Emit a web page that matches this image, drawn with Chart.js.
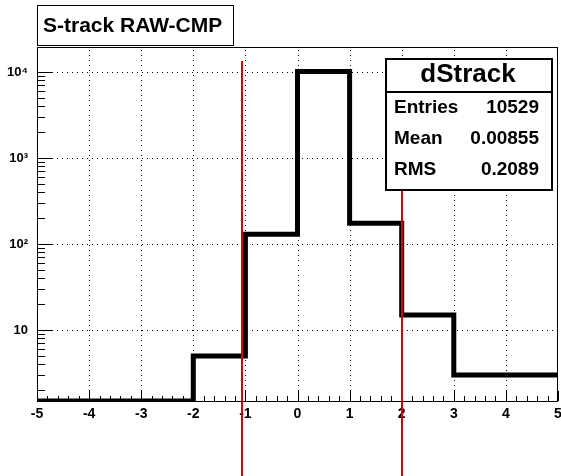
<!DOCTYPE html>
<html>
<head>
<meta charset="utf-8">
<script src="https://cdn.jsdelivr.net/npm/chart.js@4.4.1/dist/chart.umd.min.js"></script>
<style>
html, body { margin: 0; padding: 0; background: #fff; }
</style>
</head>
<body>
<canvas id="chart" width="561" height="476"></canvas>
<script>
// histogram bins (width 1) and their contents
const binEdges = [-5, -4, -3, -2, -1, 0, 1, 2, 3, 4, 5];
const binCounts = [0, 0, 0, 5, 130, 10150, 175, 15, 3, 3];

const xTicks = [-5, -4, -3, -2, -1, 0, 1, 2, 3, 4, 5];
const yTicks = [10, 100, 1000, 10000];
const yTickLabels = ["10", "10²", "10³", "10⁴"];

// the two red cut lines
const cutValues = [-1.06, 2.0];
const cutTop = 13400;

const histTitle = "S-track RAW-CMP";
const statsName = "dStrack";
const statsLabels = ["Entries", "Mean", "RMS"];
const statsValues = ["10529", "0.00855", "0.2089"];

const yMin = 1.5;
const yMax = 19500;

const FONT = "'Liberation Sans', Arial, Helvetica, sans-serif";

// step points: left edge of each bin, plus the right edge of the last one
const points = [];
for (let i = 0; i < binCounts.length; i++) {
    points.push({ x: binEdges[i], y: Math.max(binCounts[i], yMin) });
}
points.push({ x: binEdges[binEdges.length - 1], y: Math.max(binCounts[binCounts.length - 1], yMin) });

const rootFrame = {
    id: "rootFrame",
    beforeDatasetsDraw(chart) {
        const ctx = chart.ctx;
        const a = chart.chartArea;
        const xs = chart.scales.x;
        const ys = chart.scales.y;

        ctx.save();
        // dotted grid
        ctx.strokeStyle = "#000";
        ctx.lineWidth = 1;
        ctx.setLineDash([1, 4]);
        xTicks.forEach(v => {
            if (v <= xs.min || v >= xs.max) return;
            const px = Math.round(xs.getPixelForValue(v)) + 0.5;
            ctx.beginPath();
            ctx.moveTo(px, a.bottom);
            ctx.lineTo(px, a.top);
            ctx.stroke();
        });
        yTicks.forEach(v => {
            const py = Math.round(ys.getPixelForValue(v)) + 0.5;
            ctx.beginPath();
            ctx.moveTo(a.left, py);
            ctx.lineTo(a.right, py);
            ctx.stroke();
        });
        ctx.setLineDash([]);

        // tick marks, drawn inward like ROOT
        ctx.beginPath();
        for (let v = xs.min; v <= xs.max + 1e-9; v += 0.2) {
            const major = Math.abs(v - Math.round(v)) < 1e-6;
            const px = Math.round(xs.getPixelForValue(v)) + 0.5;
            ctx.moveTo(px, a.bottom);
            ctx.lineTo(px, a.bottom - (major ? 10 : 5));
        }
        for (let d = 1; d <= 10000; d *= 10) {
            for (let m = 1; m <= 9; m++) {
                const v = d * m;
                if (v < ys.min || v > ys.max) continue;
                const py = Math.round(ys.getPixelForValue(v)) + 0.5;
                ctx.moveTo(a.left, py);
                ctx.lineTo(a.left + (m === 1 ? 16 : 8), py);
            }
        }
        ctx.stroke();

        // frame
        ctx.strokeRect(a.left + 0.5, a.top + 0.5, a.right - a.left - 1, a.bottom - a.top);
        ctx.restore();
    },
    afterDatasetsDraw(chart) {
        const ctx = chart.ctx;
        const xs = chart.scales.x;
        const ys = chart.scales.y;
        ctx.save();
        ctx.strokeStyle = "#dd0000";
        ctx.lineWidth = 2;
        cutValues.forEach(v => {
            const px = Math.round(xs.getPixelForValue(v));
            ctx.beginPath();
            ctx.moveTo(px, ys.getPixelForValue(cutTop));
            ctx.lineTo(px, chart.height);
            ctx.stroke();
        });
        ctx.restore();
    },
    afterDraw(chart) {
        const ctx = chart.ctx;
        ctx.save();
        ctx.lineWidth = 1;
        ctx.strokeStyle = "#000";
        ctx.fillStyle = "#fff";

        // title box
        ctx.fillRect(37, 5, 196, 40);
        ctx.strokeRect(37.5, 5.5, 196, 40);
        ctx.fillStyle = "#000";
        ctx.font = "bold 21px " + FONT;
        ctx.textAlign = "left";
        ctx.textBaseline = "alphabetic";
        ctx.fillText(histTitle, 43, 32);

        // stats box
        ctx.fillStyle = "#fff";
        ctx.fillRect(386, 59, 166, 131);
        ctx.lineWidth = 2;
        ctx.strokeRect(386, 59, 166, 131);
        ctx.beginPath();
        ctx.moveTo(386, 92);
        ctx.lineTo(552, 92);
        ctx.stroke();
        ctx.fillStyle = "#000";
        ctx.font = "bold 26px " + FONT;
        ctx.textAlign = "center";
        ctx.fillText(statsName, 468, 82);
        ctx.font = "bold 19px " + FONT;
        statsLabels.forEach((lab, i) => {
            const y = 113 + i * 31;
            ctx.textAlign = "left";
            ctx.fillText(lab, 394, y);
            ctx.textAlign = "right";
            ctx.fillText(statsValues[i], 539, y);
        });
        ctx.restore();
    }
};

new Chart(document.getElementById("chart"), {
    type: "line",
    data: {
        datasets: [{
            label: statsName,
            data: points,
            stepped: "before",
            borderColor: "#000",
            borderWidth: 5,
            borderJoinStyle: "miter",
            borderCapStyle: "butt",
            pointRadius: 0,
            fill: false
        }]
    },
    options: {
        responsive: false,
        animation: false,
        layout: { padding: { top: 47, right: 3, left: 0, bottom: 0 } },
        plugins: { legend: { display: false }, tooltip: { enabled: false } },
        scales: {
            x: {
                type: "linear",
                min: -5,
                max: 5,
                afterBuildTicks: s => { s.ticks = xTicks.map(v => ({ value: v })); },
                afterFit: s => { s.height = 75; s.paddingLeft = 0; s.paddingRight = 0; },
                grid: { display: false, drawTicks: false },
                border: { display: false },
                ticks: {
                    autoSkip: false,
                    maxRotation: 0,
                    padding: 5,
                    color: "#000",
                    font: { family: FONT, size: 14, weight: "bold" }
                }
            },
            y: {
                type: "logarithmic",
                min: yMin,
                max: yMax,
                afterBuildTicks: s => { s.ticks = yTicks.map(v => ({ value: v })); },
                afterFit: s => { s.width = 37; s.paddingTop = 0; s.paddingBottom = 0; },
                grid: { display: false, drawTicks: false },
                border: { display: false },
                ticks: {
                    padding: 9,
                    color: "#000",
                    font: { family: FONT, size: 13, weight: "bold" },
                    callback: (v, i) => yTickLabels[i]
                }
            }
        }
    },
    plugins: [rootFrame]
});
</script>
</body>
</html>
